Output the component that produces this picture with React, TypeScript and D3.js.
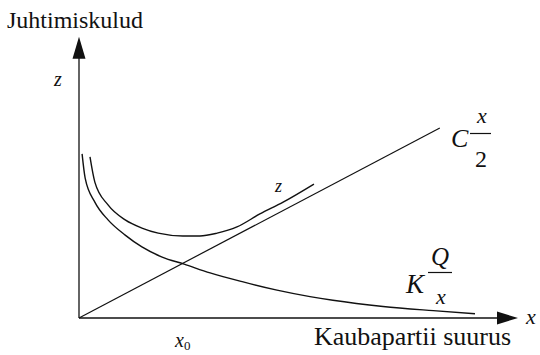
import React from "react";
import * as d3 from "d3";

// Horizontal axis: order size x; vertical axis: management costs z (arbitrary units 0..100)
const holdingLine: [number, number][] = [
  [0, 0],
  [82.0, 67.4],
];

// Ordering cost K·Q/x
const orderingCurve: [number, number][] = [
  [0.7, 58.2],
  [1.4, 49.6],
  [3.6, 41.1],
  [6.6, 34.8],
  [10.5, 29.4],
  [14.3, 25.2],
  [18.9, 21.6],
  [23.9, 19.1],
  [29.8, 16.0],
  [37.3, 12.8],
  [45.0, 9.9],
  [52.5, 7.6],
  [57.7, 6.3],
  [69.1, 4.1],
  [80.5, 2.6],
  [90.0, 1.5],
];

// Total cost z
const totalCurve: [number, number][] = [
  [2.5, 57.1],
  [3.6, 48.2],
  [6.6, 40.1],
  [10.5, 34.8],
  [14.3, 31.9],
  [18.0, 30.1],
  [23.6, 29.1],
  [27.5, 29.1],
  [31.4, 30.1],
  [35.9, 32.3],
  [41.1, 36.9],
  [46.4, 41.1],
  [53.4, 47.5],
];

const W = 540;
const H = 355;

const x = d3.scaleLinear().domain([0, 100]).range([79, 519]);
const y = d3.scaleLinear().domain([0, 100]).range([318, 36]);

const line = d3
  .line<[number, number]>()
  .x((d) => x(d[0]))
  .y((d) => y(d[1]))
  .curve(d3.curveMonotoneX);

const FONT = "Liberation Serif";
const ink = "#111";

export default function App() {
  const x0 = x(0);
  const y0 = y(0);
  const yTip = y(100) + 0.7;
  const xTip = x(100) - 1;
  return (
    <svg
      width={W}
      height={H}
      viewBox={`0 0 ${W} ${H}`}
      fontFamily={FONT}
      style={{ position: "absolute", left: 0, top: 0, background: "#fff" }}
    >
      {/* axes */}
      <line x1={x0} y1={y0} x2={x0} y2={yTip + 18} stroke={ink} strokeWidth={1.3} />
      <polygon
        points={`${x0},${yTip} ${x0 - 6.5},${yTip + 22} ${x0 + 6.5},${yTip + 22}`}
        fill={ink}
      />
      <line x1={x0} y1={y0} x2={xTip - 16} y2={y0} stroke={ink} strokeWidth={1.3} />
      <polygon
        points={`${xTip},${y0} ${xTip - 21},${y0 - 6.5} ${xTip - 21},${y0 + 6.5}`}
        fill={ink}
      />

      {/* curves */}
      <path d={line(holdingLine) ?? ""} fill="none" stroke={ink} strokeWidth={1.2} />
      <path d={line(orderingCurve) ?? ""} fill="none" stroke={ink} strokeWidth={1.4} />
      <path d={line(totalCurve) ?? ""} fill="none" stroke={ink} strokeWidth={1.4} />

      {/* axis titles */}
      <text x={7} y={28} fontSize={24} fill={ink} fontFamily={FONT}>
        Juhtimiskulud
      </text>
      <text x={314} y={345} fontSize={26} fill={ink} fontFamily={FONT}>
        Kaubapartii suurus
      </text>
      <text x={54} y={86} fontSize={20} fontStyle="italic" fill={ink} fontFamily={FONT}>
        z
      </text>
      <text x={526} y={324} fontSize={22} fontStyle="italic" fill={ink} fontFamily={FONT}>
        x
      </text>
      <text x={175} y={347} fontSize={20} fontStyle="italic" fill={ink} fontFamily={FONT}>
        x<tspan fontSize={13} dy={3} fontStyle="normal">0</tspan>
      </text>

      {/* curve labels */}
      <text x={275} y={192} fontSize={18} fontStyle="italic" fill={ink} fontFamily={FONT}>
        z
      </text>

      <text x={451} y={147} fontSize={26} fontStyle="italic" fill={ink} fontFamily={FONT}>
        C
      </text>
      <line x1={470} y1={133.5} x2={491} y2={133.5} stroke={ink} strokeWidth={1.2} />
      <text x={482} y={123} fontSize={22} fontStyle="italic" textAnchor="middle" fill={ink} fontFamily={FONT}>
        x
      </text>
      <text x={481} y={167} fontSize={24} textAnchor="middle" fill={ink} fontFamily={FONT}>
        2
      </text>

      <text x={406} y={293} fontSize={27} fontStyle="italic" fill={ink} fontFamily={FONT}>
        K
      </text>
      <line x1={428} y1={272.5} x2={452} y2={272.5} stroke={ink} strokeWidth={1.2} />
      <text x={440} y={265} fontSize={25} fontStyle="italic" textAnchor="middle" fill={ink} fontFamily={FONT}>
        Q
      </text>
      <text x={441} y={304} fontSize={22} fontStyle="italic" textAnchor="middle" fill={ink} fontFamily={FONT}>
        x
      </text>
    </svg>
  );
}
